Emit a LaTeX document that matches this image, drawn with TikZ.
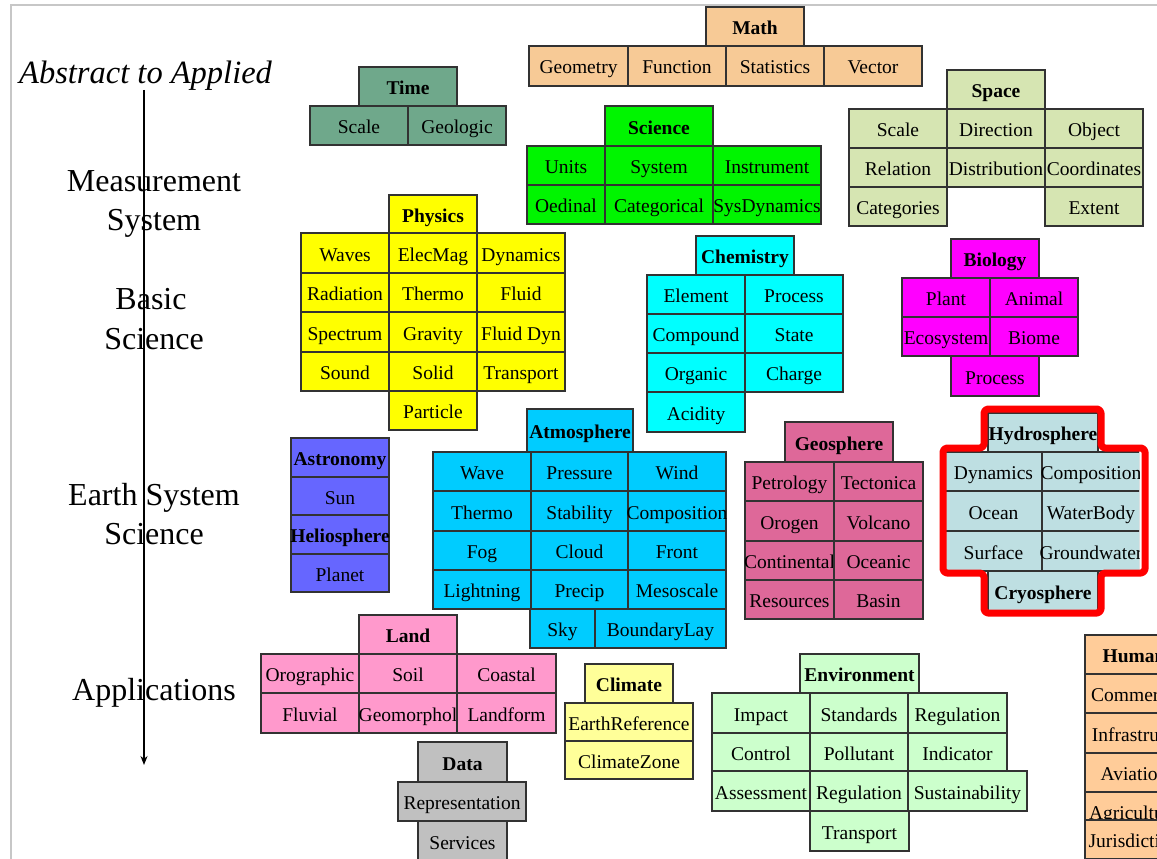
\documentclass[tikz,border=0pt]{standalone}
\usepackage{fontspec}
\setmainfont{Liberation Serif}
\usetikzlibrary{arrows.meta}

% fills of the topic groups
\definecolor{bordc}{RGB}{50,50,50}
\definecolor{mathc}{RGB}{247,202,150}
\definecolor{timec}{RGB}{111,168,139}
\definecolor{scic}{RGB}{0,245,0}
\definecolor{spacec}{RGB}{214,229,178}
\definecolor{physc}{RGB}{255,255,0}
\definecolor{chemc}{RGB}{0,255,255}
\definecolor{bioc}{RGB}{255,0,255}
\definecolor{atmc}{RGB}{0,204,255}
\definecolor{astc}{RGB}{102,102,255}
\definecolor{geoc}{RGB}{222,104,153}
\definecolor{hydc}{RGB}{190,223,226}
\definecolor{landc}{RGB}{255,153,204}
\definecolor{climc}{RGB}{255,255,153}
\definecolor{datac}{RGB}{192,192,192}
\definecolor{envc}{RGB}{204,255,204}
\definecolor{humc}{RGB}{255,204,153}

\tikzset{
  cellbox/.style={draw=bordc, line width=1.2pt, rectangle, inner sep=0pt, outer sep=0pt,
    text height=16pt, text depth=0pt, font=\fontsize{19.5}{23}\selectfont, text=black},
  hdr/.style={font=\fontsize{19.5}{23}\selectfont\bfseries},
  level/.style={anchor=base, inner sep=0pt, font=\fontsize{32}{38}\selectfont},
  axisline/.style={line width=1.4pt, -{Stealth[length=9pt,width=7pt]}},
  frameline/.style={draw=black!22, line width=1.8pt},
  outline/.style={draw=red, line width=7pt, rounded corners=4pt, line join=round},
}

% \cell{name}{left}{top}{width}{height}{style}{text}
\newcommand{\cell}[7]{\node[cellbox,#6,minimum width=#4pt,minimum height=#5pt] (#1) at ({#2+#4/2},{#3+#5/2}) {\makebox[0pt]{#7}};}

\begin{document}
\begin{tikzpicture}[x=1pt,y=-1pt]
\useasboundingbox (0,0) rectangle (1157,859);
\fill[white] (0,0) rectangle (1157,859);
\clip (0,0) rectangle (1157,859);

% slide frame
\draw[frameline] (11,859) -- (11,5) -- (1157,5);

% ---------- axis and level labels ----------
\node[anchor=base west, inner sep=0pt, font=\fontsize{32.5}{38}\selectfont\itshape] (abstract) at (19,84) {Abstract to Applied};
\node[level] (meas1) at (154,191) {Measurement};
\node[level] (meas2) at (154,230) {System};
\node[level] (basic1) at (151,309) {Basic};
\node[level] (basic2) at (154,349) {Science};
\node[level] (earth1) at (154,505) {Earth System};
\node[level] (earth2) at (154,544) {Science};
\node[level] (appl) at (154,700) {Applications};
\coordinate (axtop) at (144,90);
\coordinate (axbot) at (144,765);
\draw[axisline] (axtop) -- (axbot);

% ---------- Math ----------
\cell{math}{706}{7}{98}{39}{fill=mathc,hdr}{Math}
\cell{geometry}{529}{46}{99}{40}{fill=mathc}{Geometry}
\cell{function}{628}{46}{98}{40}{fill=mathc}{Function}
\cell{statistics}{726}{46}{98}{40}{fill=mathc}{Statistics}
\cell{vector}{824}{46}{98}{40}{fill=mathc}{Vector}

% ---------- Time ----------
\cell{time}{359}{67}{98}{39}{fill=timec,hdr}{Time}
\cell{tscale}{310}{106}{98}{39}{fill=timec}{Scale}
\cell{geologic}{408}{106}{98}{39}{fill=timec}{Geologic}

% ---------- Science ----------
\cell{science}{605}{106}{108}{40}{fill=scic,hdr}{Science}
\cell{units}{527}{146}{78}{39}{fill=scic}{Units}
\cell{system}{605}{146}{108}{39}{fill=scic}{System}
\cell{instrument}{713}{146}{108}{39}{fill=scic}{Instrument}
\cell{oedinal}{527}{185}{78}{39}{fill=scic}{Oedinal}
\cell{categorical}{605}{185}{108}{39}{fill=scic}{Categorical}
\cell{sysdyn}{713}{185}{108}{39}{fill=scic}{SysDynamics}

% ---------- Space ----------
\cell{space}{947}{70}{98}{39}{fill=spacec,hdr}{Space}
\cell{sscale}{849}{109}{98}{39}{fill=spacec}{Scale}
\cell{direction}{947}{109}{98}{39}{fill=spacec}{Direction}
\cell{object}{1045}{109}{98}{39}{fill=spacec}{Object}
\cell{relation}{849}{148}{98}{39}{fill=spacec}{Relation}
\cell{distribution}{947}{148}{98}{39}{fill=spacec}{Distribution}
\cell{coordinates}{1045}{148}{98}{39}{fill=spacec}{Coordinates}
\cell{categories}{849}{187}{98}{39}{fill=spacec}{Categories}
\cell{extent}{1045}{187}{98}{39}{fill=spacec}{Extent}

% ---------- Physics ----------
\cell{physics}{389}{195}{88}{38}{fill=physc,hdr}{Physics}
\cell{waves}{301}{233}{88}{40}{fill=physc}{Waves}
\cell{elecmag}{389}{233}{88}{40}{fill=physc}{ElecMag}
\cell{dynamics}{477}{233}{88}{40}{fill=physc}{Dynamics}
\cell{radiation}{301}{273}{88}{39}{fill=physc}{Radiation}
\cell{pthermo}{389}{273}{88}{39}{fill=physc}{Thermo}
\cell{fluid}{477}{273}{88}{39}{fill=physc}{Fluid}
\cell{spectrum}{301}{312}{88}{40}{fill=physc}{Spectrum}
\cell{gravity}{389}{312}{88}{40}{fill=physc}{Gravity}
\cell{fluiddyn}{477}{312}{88}{40}{fill=physc}{Fluid Dyn}
\cell{sound}{301}{352}{88}{39}{fill=physc}{Sound}
\cell{solid}{389}{352}{88}{39}{fill=physc}{Solid}
\cell{ptransport}{477}{352}{88}{39}{fill=physc}{Transport}
\cell{particle}{389}{391}{88}{39}{fill=physc}{Particle}

% ---------- Chemistry ----------
\cell{chemistry}{696}{236}{98}{39}{fill=chemc,hdr}{Chemistry}
\cell{element}{647}{275}{98}{39}{fill=chemc}{Element}
\cell{cprocess}{745}{275}{98}{39}{fill=chemc}{Process}
\cell{compound}{647}{314}{98}{39}{fill=chemc}{Compound}
\cell{state}{745}{314}{98}{39}{fill=chemc}{State}
\cell{organic}{647}{353}{98}{39}{fill=chemc}{Organic}
\cell{charge}{745}{353}{98}{39}{fill=chemc}{Charge}
\cell{acidity}{647}{392}{98}{40}{fill=chemc}{Acidity}

% ---------- Biology ----------
\cell{biology}{951}{239}{88}{39}{fill=bioc,hdr}{Biology}
\cell{plant}{902}{278}{88}{39}{fill=bioc}{Plant}
\cell{animal}{990}{278}{88}{39}{fill=bioc}{Animal}
\cell{ecosystem}{902}{317}{88}{39}{fill=bioc}{Ecosystem}
\cell{biome}{990}{317}{88}{39}{fill=bioc}{Biome}
\cell{bprocess}{951}{356}{88}{40}{fill=bioc}{Process}

% ---------- Astronomy ----------
\cell{astronomy}{291}{438}{98}{39}{fill=astc,hdr}{Astronomy}
\cell{sun}{291}{477}{98}{38}{fill=astc}{Sun}
\cell{helio}{291}{515}{98}{39}{fill=astc,hdr}{Heliosphere}
\cell{planet}{291}{554}{98}{38}{fill=astc}{Planet}

% ---------- Atmosphere ----------
\cell{atmosphere}{527}{409}{106}{43}{fill=atmc,hdr}{Atmosphere}
\cell{wave}{433}{452}{98}{39}{fill=atmc}{Wave}
\cell{pressure}{531}{452}{97}{39}{fill=atmc}{Pressure}
\cell{wind}{628}{452}{98}{39}{fill=atmc}{Wind}
\cell{athermo}{433}{491}{98}{40}{fill=atmc}{Thermo}
\cell{stability}{531}{491}{97}{40}{fill=atmc}{Stability}
\cell{acomp}{628}{491}{98}{40}{fill=atmc}{Composition}
\cell{fog}{433}{531}{98}{39}{fill=atmc}{Fog}
\cell{cloud}{531}{531}{97}{39}{fill=atmc}{Cloud}
\cell{front}{628}{531}{98}{39}{fill=atmc}{Front}
\cell{lightning}{433}{570}{98}{39}{fill=atmc}{Lightning}
\cell{precip}{531}{570}{97}{39}{fill=atmc}{Precip}
\cell{mesoscale}{628}{570}{98}{39}{fill=atmc}{Mesoscale}
\cell{sky}{530}{609}{65}{39}{fill=atmc}{Sky}
\cell{boundary}{595}{609}{131}{39}{fill=atmc}{BoundaryLay}

% ---------- Geosphere ----------
\cell{geosphere}{785}{422}{108}{40}{fill=geoc,hdr}{Geosphere}
\cell{petrology}{745}{462}{89}{39}{fill=geoc}{Petrology}
\cell{tectonica}{834}{462}{89}{39}{fill=geoc}{Tectonica}
\cell{orogen}{745}{501}{89}{40}{fill=geoc}{Orogen}
\cell{volcano}{834}{501}{89}{40}{fill=geoc}{Volcano}
\cell{continental}{745}{541}{89}{39}{fill=geoc}{Continental}
\cell{oceanic}{834}{541}{89}{39}{fill=geoc}{Oceanic}
\cell{resources}{745}{580}{89}{39}{fill=geoc}{Resources}
\cell{basin}{834}{580}{89}{39}{fill=geoc}{Basin}

% ---------- Hydrosphere ----------
\begin{scope}
\clip (930,400) rectangle (1139,620);
\cell{hydrosphere}{988}{413}{110}{39}{fill=hydc,hdr}{Hydrosphere}
\cell{hdynamics}{945}{452}{97}{39}{fill=hydc}{Dynamics}
\cell{hcomp}{1042}{452}{98}{39}{fill=hydc}{Composition}
\cell{ocean}{945}{491}{97}{40}{fill=hydc}{Ocean}
\cell{waterbody}{1042}{491}{98}{40}{fill=hydc}{WaterBody}
\cell{surface}{945}{531}{97}{40}{fill=hydc}{Surface}
\cell{groundwater}{1042}{531}{98}{40}{fill=hydc}{Groundwater}
\cell{cryosphere}{988}{571}{110}{40}{fill=hydc,hdr}{Cryosphere}
\end{scope}
\draw[outline] (984,409) -- (1101,409) -- (1101,448) -- (1145,448) -- (1145,573)
  -- (1101,573) -- (1101,613) -- (984,613) -- (984,573) -- (943,573)
  -- (943,448) -- (984,448) -- cycle;

% ---------- Land ----------
\cell{land}{359}{615}{98}{39}{fill=landc,hdr}{Land}
\cell{orographic}{261}{654}{98}{39}{fill=landc}{Orographic}
\cell{soil}{359}{654}{98}{39}{fill=landc}{Soil}
\cell{coastal}{457}{654}{99}{39}{fill=landc}{Coastal}
\cell{fluvial}{261}{693}{98}{40}{fill=landc}{Fluvial}
\cell{geomorphol}{359}{693}{98}{40}{fill=landc}{Geomorphol}
\cell{landform}{457}{693}{99}{40}{fill=landc}{Landform}

% ---------- Climate ----------
\cell{climate}{585}{664}{88}{39}{fill=climc,hdr}{Climate}
\cell{earthref}{565}{703}{128}{38}{fill=climc}{EarthReference}
\cell{climatezone}{565}{741}{128}{38}{fill=climc}{ClimateZone}

% ---------- Data ----------
\cell{data}{418}{742}{89}{40}{fill=datac,hdr}{Data}
\cell{representation}{398}{782}{128}{39}{fill=datac}{Representation}
\cell{services}{418}{821}{89}{40}{fill=datac}{Services}

% ---------- Environment ----------
\cell{environment}{800}{654}{119}{39}{fill=envc,hdr}{Environment}
\cell{impact}{712}{693}{98}{40}{fill=envc}{Impact}
\cell{standards}{810}{693}{98}{40}{fill=envc}{Standards}
\cell{eregulation}{908}{693}{99}{40}{fill=envc}{Regulation}
\cell{control}{712}{733}{98}{38}{fill=envc}{Control}
\cell{pollutant}{810}{733}{98}{38}{fill=envc}{Pollutant}
\cell{indicator}{908}{733}{99}{38}{fill=envc}{Indicator}
\cell{assessment}{712}{771}{98}{40}{fill=envc}{Assessment}
\cell{eregulationb}{810}{771}{98}{40}{fill=envc}{Regulation}
\cell{sustainability}{908}{771}{119}{40}{fill=envc}{Sustainability}
\cell{etransport}{810}{811}{99}{40}{fill=envc}{Transport}

% ---------- Human ----------
\cell{human}{1085}{635}{98}{39}{fill=humc,hdr}{Human}
\cell{commerce}{1085}{674}{98}{39}{fill=humc}{Commerce}
\cell{infrastructure}{1085}{713}{98}{40}{fill=humc}{\hspace*{22pt}Infrastructure}
\cell{aviation}{1085}{753}{98}{39}{fill=humc}{Aviation}
\cell{agriculture}{1085}{792}{98}{39}{fill=humc}{Agriculture}
\cell{jurisdiction}{1085}{820}{98}{39}{fill=humc}{Jurisdiction}

\end{tikzpicture}
\end{document}
